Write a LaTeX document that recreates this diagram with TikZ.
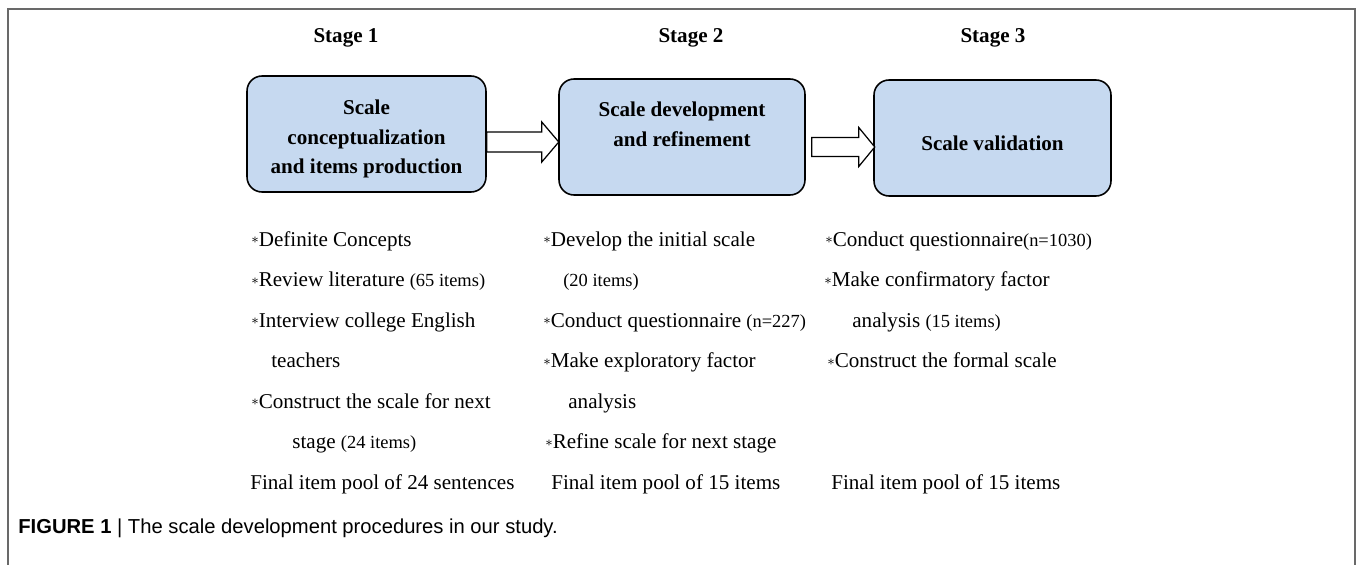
\documentclass[tikz,border=0pt]{standalone}
\usepackage{fontspec}
\setmainfont{Liberation Serif}
\newfontfamily\capfont{Liberation Sans}
\usetikzlibrary{calc}

\definecolor{boxblue}{RGB}{198,217,240}
\definecolor{framegray}{RGB}{105,105,105}
\newcommand{\itemstar}{\raisebox{1.3pt}{\fontsize{8.5}{8}\selectfont$\ast$}}
\newcommand{\sm}[1]{{\fontsize{10.5}{12}\selectfont #1}}

\begin{document}
\begin{tikzpicture}[x=0.02cm,y=-0.02cm,
    stagehead/.style={font=\bfseries\fontsize{12}{14}\selectfont,inner sep=0pt},
    stagebox/.style={draw,line width=0.9pt,rounded corners=0.3cm,fill=boxblue,
      minimum height=2.32cm,align=center,inner sep=0pt,
      font=\bfseries\fontsize{12}{17}\selectfont},
    fatarrow/.style={draw,line width=0.7pt,fill=white},
    line/.style={anchor=base west,inner sep=0pt,font=\fontsize{12}{14}\selectfont}]
      \useasboundingbox (0,0) rectangle (1357,565);
      \draw[framegray,line width=0.9pt] (8,565)--(8,9)--(1355,9)--(1355,565);
      % stage titles and boxes
      \node[stagehead] (h1) at (346,38) {Stage 1};
      \node[stagehead] (h2) at (691,38) {Stage 2};
      \node[stagehead] (h3) at (993,38) {Stage 3};
      \node[stagebox,minimum width=4.78cm] (b1) at (366.5,134) {\rule{0pt}{14pt}Scale\\conceptualization\\and items production};
      \node[stagebox,minimum width=4.92cm] (b2) at (682,137) {\rule{0pt}{16pt}Scale development\\and refinement\\\strut};
      \node[stagebox,minimum width=4.74cm] (b3) at (992.5,138) {\rule{0pt}{14pt}Scale validation};
      % block arrows
      \coordinate (a1) at ($(b1.east)+(0,8)$);
      \coordinate (a2) at ($(b2.east)+(6,10)$);
      \draw[fatarrow] (a1)--++(0,-10)--++(55,0)--++(0,-10)--++(17,20)--++(-17,20)--++(0,-10)--++(-55,0)--cycle;
      \draw[fatarrow] (a2)--++(0,-9.5)--++(47,0)--++(0,-10)--++(16,19.5)--++(-16,19.5)--++(0,-10)--++(-47,0)--cycle;
      % stage 1 steps
      \node[line] (s1a) at (251,246) {\itemstar Definite Concepts};
      \node[line] (s1b) at (251,286.5) {\itemstar Review literature \sm{(65 items)}};
      \node[line] (s1c) at (251,327) {\itemstar Interview college English};
      \node[line] (s1d) at (271,367.5) {teachers};
      \node[line] (s1e) at (251,408) {\itemstar Construct the scale for next};
      \node[line] (s1f) at (292,448.5) {stage \sm{(24 items)}};
      \node[line] (s1g) at (250,489) {Final item pool of 24 sentences};
      % stage 2 steps
      \node[line] (s2a) at (543,246) {\itemstar Develop the initial scale};
      \node[line] (s2b) at (563,286.5) {\sm{(20 items)}};
      \node[line] (s2c) at (543,327) {\itemstar Conduct questionnaire \sm{(n=227)}};
      \node[line] (s2d) at (543,367.5) {\itemstar Make exploratory factor};
      \node[line] (s2e) at (568,408) {analysis};
      \node[line] (s2f) at (545,448.5) {\itemstar Refine scale for next stage};
      \node[line] (s2g) at (551,489) {Final item pool of 15 items};
      % stage 3 steps
      \node[line] (s3a) at (825,246) {\itemstar Conduct questionnaire\sm{(n=1030)}};
      \node[line] (s3b) at (824,286.5) {\itemstar Make confirmatory factor};
      \node[line] (s3c) at (852,327) {analysis \sm{(15 items)}};
      \node[line] (s3d) at (827,367.5) {\itemstar Construct the formal scale};
      \node[line] (s3e) at (831,489) {Final item pool of 15 items};
      \node[anchor=west,inner sep=0pt,font=\capfont\fontsize{11.5}{13}\selectfont] (cap) at (18,528)
        {\textbf{FIGURE 1} | The scale development procedures in our study.};
    \end{tikzpicture}
\end{document}
